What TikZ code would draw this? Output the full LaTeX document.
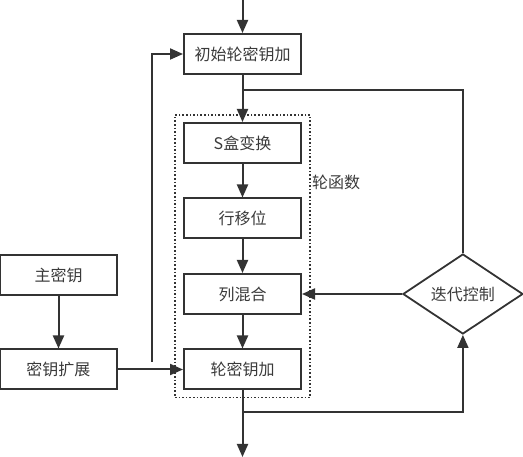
\documentclass[tikz,border=0pt]{standalone}
\usepackage{fontspec}
\setmainfont{Noto Sans CJK SC}
\usepackage{tikz}
\usetikzlibrary{shapes.geometric, arrows.meta, positioning, calc, fit}
\definecolor{linegray}{HTML}{333333}
\definecolor{textgray}{HTML}{3A3A3A}

\begin{document}
\begin{tikzpicture}[
  x=1pt, y=-1pt,
  node distance=33.5pt,
  block/.style={rectangle, draw=linegray, line width=2pt, minimum width=117pt, minimum height=40pt, font=\fontsize{16}{19}\selectfont, text=textgray},
  decision/.style={diamond, draw=linegray, line width=1.8pt, minimum width=120pt, minimum height=80pt, inner sep=0pt, font=\fontsize{16}{19}\selectfont, text=textgray},
  frame/.style={draw=linegray, dotted, line width=1.6pt, inner xsep=8pt, inner ysep=7pt},
  arrow/.style={-{Triangle[length=13pt, width=11pt]}, line width=2pt, draw=linegray},
  link/.style={line width=1.8pt, draw=linegray}
]
  \useasboundingbox (0,0) rectangle (523,457);

  \node[block] (init) at (242.5,54) {初始轮密钥加};
  \node[block, below=47pt of init] (sbox) {S盒变换};
  \node[block, below=of sbox] (shift) {行移位};
  \node[block, below=of shift] (mix) {列混合};
  \node[block, below=of mix] (ark) {轮密钥加};
  \node[block, left=65pt of ark] (expand) {密钥扩展};
  \node[block, above=52pt of expand] (master) {主密钥};
  \node[decision, right=100pt of mix] (iter) {迭代控制};
  \node[frame, fit=(sbox)(ark)] (round) {};
  \node[anchor=west, font=\fontsize{16}{19}\selectfont, text=textgray, inner sep=1pt] (roundlabel) at (311,182) {轮函数};

  \coordinate (in) at (242.5,0);
  \coordinate (out) at (242.5,457);
  \coordinate (split) at (242.5,90);
  \coordinate (merge) at (242.5,412);
  \coordinate (keyjoin) at (152,362);

  \draw[arrow] (in) -- (init);
  \draw[arrow] (init) -- (sbox);
  \draw[link] (split) -| (iter.north);
  \draw[arrow] (sbox) -- (shift);
  \draw[arrow] (shift) -- (mix);
  \draw[arrow] (mix) -- (ark);
  \draw[arrow] (master) -- (expand);
  \draw[arrow] (expand) -- (ark);
  \draw[arrow] (keyjoin) |- (init.west);
  \draw[arrow] (iter) -- (mix);
  \draw[arrow] (ark) -- (out);
  \draw[link, -{Triangle[length=13pt, width=11pt]}] (merge) -| (iter.south);
\end{tikzpicture}
\end{document}
